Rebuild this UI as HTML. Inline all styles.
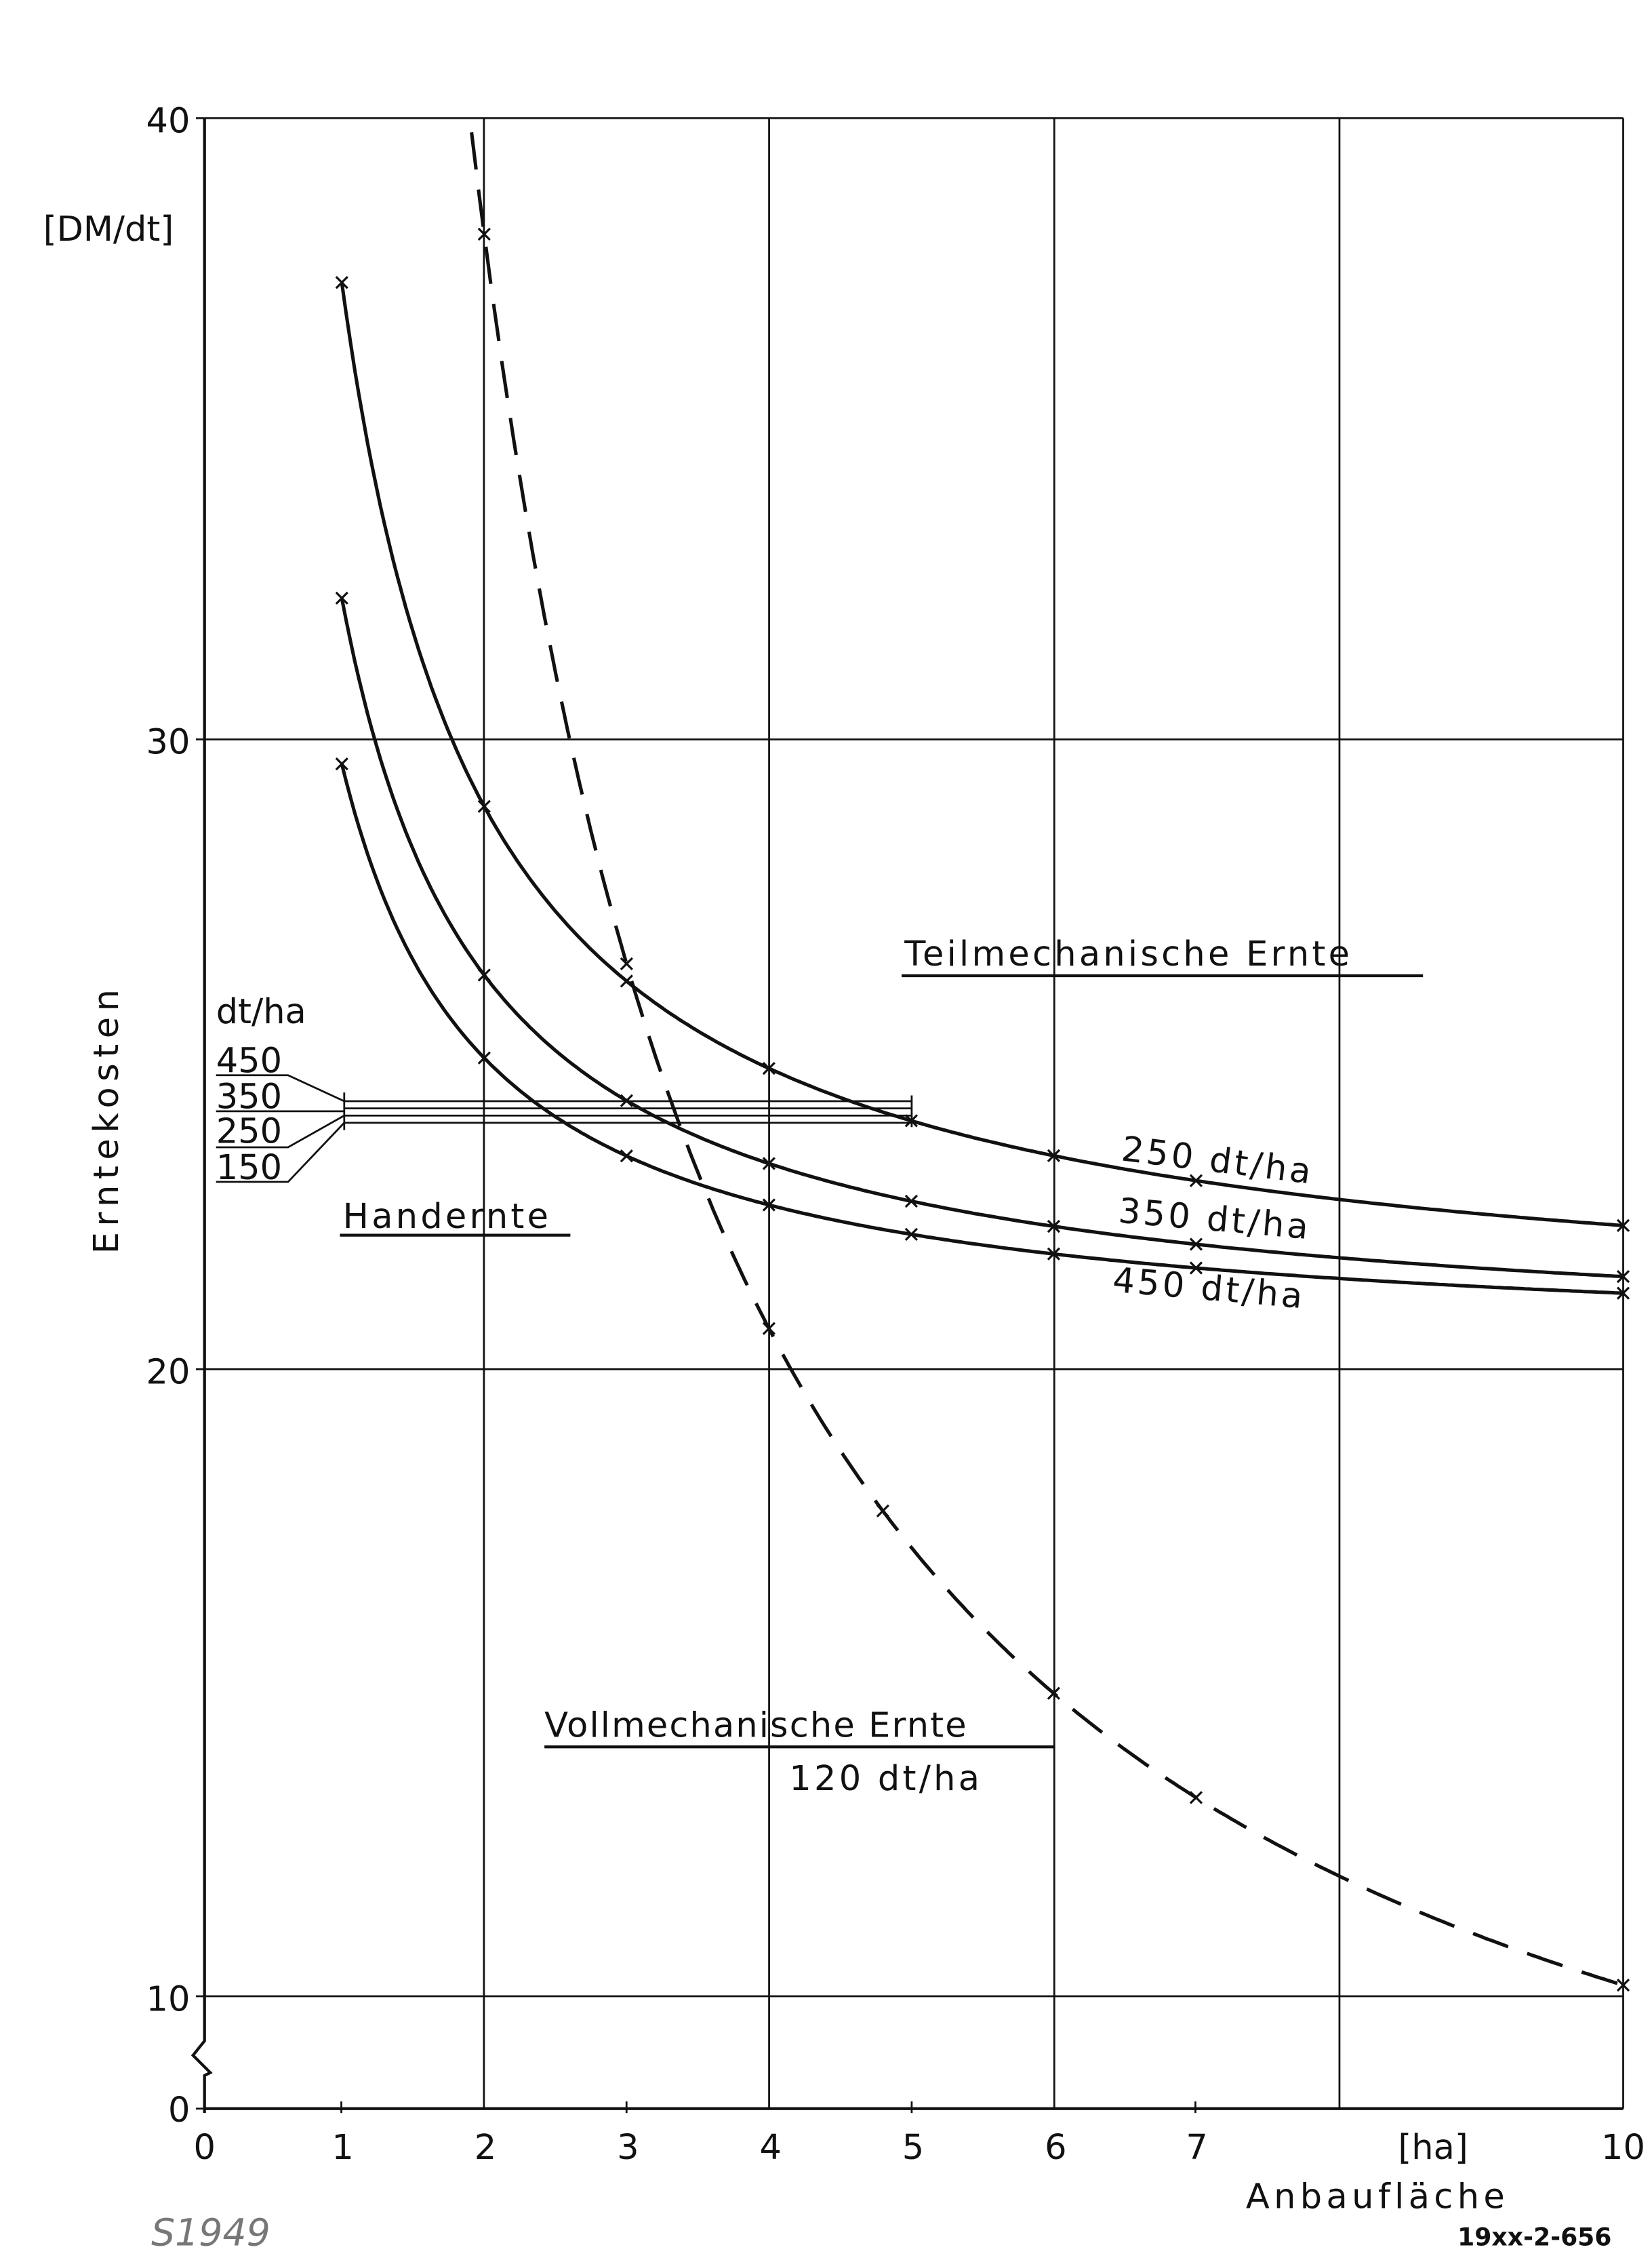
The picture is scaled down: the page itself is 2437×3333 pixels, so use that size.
<!DOCTYPE html>
<html><head><meta charset="utf-8"><style>
html,body{margin:0;padding:0;background:#fff;}
svg{display:block;}
text{font-family:"DejaVu Sans","Liberation Sans",sans-serif;fill:#111;}
</style></head><body>
<svg id="s" width="2437" height="3333" viewBox="0 0 1147 1568" preserveAspectRatio="none" xmlns="http://www.w3.org/2000/svg">
<rect width="1147" height="1568" fill="#fff"/>
<g stroke="#111" stroke-width="1.3" fill="none">
<line x1="142" y1="82" x2="1127" y2="82"/>
<line x1="142" y1="513" x2="1127" y2="513"/>
<line x1="142" y1="950" x2="1127" y2="950"/>
<line x1="142" y1="1385" x2="1127" y2="1385"/>
<line x1="142" y1="1463" x2="1127" y2="1463" stroke-width="2"/>
<line x1="336" y1="82" x2="336" y2="1463"/>
<line x1="534" y1="82" x2="534" y2="1463"/>
<line x1="732" y1="82" x2="732" y2="1463"/>
<line x1="930" y1="82" x2="930" y2="1463"/>
<line x1="1127" y1="82" x2="1127" y2="1463"/>
<polyline points="142,82 142,1416 134,1426 146,1438 142,1440 142,1466" stroke-width="2"/>
<line x1="136" y1="82" x2="142" y2="82"/><line x1="136" y1="513" x2="142" y2="513"/><line x1="136" y1="950" x2="142" y2="950"/><line x1="136" y1="1385" x2="142" y2="1385"/><line x1="136" y1="1463" x2="142" y2="1463"/>
<line x1="237" y1="1458" x2="237" y2="1466"/><line x1="435" y1="1458" x2="435" y2="1466"/><line x1="633" y1="1458" x2="633" y2="1466"/><line x1="830" y1="1458" x2="830" y2="1466"/>
<line x1="239" y1="764" x2="633" y2="764"/>
<line x1="239" y1="769" x2="633" y2="769"/>
<line x1="239" y1="774" x2="633" y2="774"/>
<line x1="239" y1="779" x2="633" y2="779"/>
<line x1="239" y1="758" x2="239" y2="784"/><line x1="633" y1="760" x2="633" y2="782"/>
<polyline points="150,746 200,746 239,764"/>
<polyline points="150,771 239,771"/>
<polyline points="150,796 200,796 239,774"/>
<polyline points="150,820 200,820 239,779"/>
<line x1="626" y1="677" x2="988" y2="677" stroke-width="2"/>
<line x1="236" y1="857" x2="396" y2="857" stroke-width="2"/>
<line x1="378" y1="1212" x2="732" y2="1212" stroke-width="2"/>
<path id="c1" stroke-width="2.4"/>
<path id="c2" stroke-width="2.4"/>
<path id="c3" stroke-width="2.4"/>
<path id="c4" stroke-width="2.4" stroke-dasharray="26,14"/>
</g>
<g id="marks" stroke="#111" stroke-width="1.5"></g>
<g font-size="24">
<text x="132" y="92" text-anchor="end">40</text>
<text x="132" y="523" text-anchor="end">30</text>
<text x="132" y="960" text-anchor="end">20</text>
<text x="132" y="1395" text-anchor="end">10</text>
<text x="132" y="1472" text-anchor="end">0</text>
<text x="142" y="1498" text-anchor="middle">0</text>
<text x="238" y="1498" text-anchor="middle">1</text>
<text x="337" y="1498" text-anchor="middle">2</text>
<text x="436" y="1498" text-anchor="middle">3</text>
<text x="535" y="1498" text-anchor="middle">4</text>
<text x="634" y="1498" text-anchor="middle">5</text>
<text x="733" y="1498" text-anchor="middle">6</text>
<text x="831" y="1498" text-anchor="middle">7</text>
<text x="995" y="1498" text-anchor="middle">[ha]</text>
<text x="1127" y="1498" text-anchor="middle">10</text>
<text x="865" y="1532" letter-spacing="3">Anbaufläche</text>
<text x="30" y="167">[DM/dt]</text>
<text transform="translate(82,870) rotate(-90)" letter-spacing="4">Erntekosten</text>
<text x="150" y="710">dt/ha</text>
<text x="150" y="744">450</text>
<text x="150" y="769">350</text>
<text x="150" y="793">250</text>
<text x="150" y="818">150</text>
<text x="238" y="852" letter-spacing="2">Handernte</text>
<text x="628" y="670" letter-spacing="2">Teilmechanische Ernte</text>
<text x="378" y="1205" letter-spacing="1">Vollmechanische Ernte</text>
<text x="548" y="1242" letter-spacing="2">120 dt/ha</text>
<text transform="translate(778,805) rotate(7)" letter-spacing="2">250 dt/ha</text>
<text transform="translate(776,848) rotate(5)" letter-spacing="2">350 dt/ha</text>
<text transform="translate(772,896) rotate(5)" letter-spacing="2">450 dt/ha</text>
<text x="105" y="1558" font-size="26" font-style="italic" style="fill:#777">S1949</text>
<text x="1012" y="1558" font-size="17" font-weight="bold" font-family="Liberation Sans,sans-serif">19xx-2-656</text>
</g>
</svg>
<script>
function X(h){return 138.5+98.85*h;}
function hyp(A,B,h0,h1){var d="";for(var i=0;i<=300;i++){var h=h0+(h1-h0)*i/300;d+=(i?" L":"M")+X(h).toFixed(1)+","+(A-B/h).toFixed(1);}return d;}
document.getElementById("c1").setAttribute("d",hyp(923,727,1,10));
document.getElementById("c2").setAttribute("d",hyp(938,523,1,10));
document.getElementById("c3").setAttribute("d",hyp(938,408,1,10));
document.getElementById("c4").setAttribute("d",hyp(1681,3037,1.911,10));
var pts=[[923,727,[1,2,3,4,5,6,7,10]],[938,523,[1,2,3,4,5,6,7,10]],[938,408,[1,2,3,4,5,6,7,10]],[1681,3037,[2,3,4,4.8,6,7,10]]];
var m="";pts.forEach(function(s){s[2].forEach(function(h){var x=X(h),y=s[0]-s[1]/h;m+='<line x1="'+(x-4)+'" y1="'+(y-4)+'" x2="'+(x+4)+'" y2="'+(y+4)+'"/><line x1="'+(x-4)+'" y1="'+(y+4)+'" x2="'+(x+4)+'" y2="'+(y-4)+'"/>';});});
document.getElementById("marks").innerHTML=m;
</script>
</body></html>
